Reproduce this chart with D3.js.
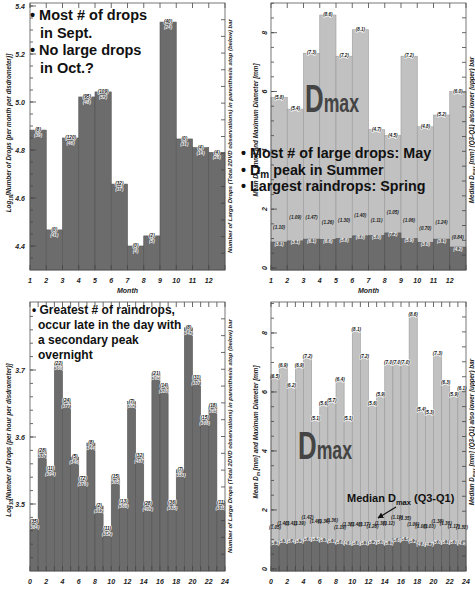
<!DOCTYPE html>
<html>
<head>
<meta charset="utf-8">
<script src="https://cdn.jsdelivr.net/npm/d3@7"></script>
<style>
  body { margin: 0; background: #fff; }
  svg { display: block; font-family: Arial, "Liberation Sans", Helvetica, sans-serif; }
</style>
</head>
<body>
<svg id="chart" width="475" height="589"></svg>
<script>
// ---- data: monthly ----
const months = d3.range(1, 13);
const logDropsMonth = [4.883, 4.467, 4.850, 5.021, 5.042, 4.658, 4.400, 4.442, 5.333, 4.846, 4.810, 4.790];
const largeMonth = [8, 0, 120, 95, 109, 32, 0, 2, 40, 0, 4, 4];
const obsMonth = [39, 41, 46, 48, 52, 37, 4, 5, 24, 31, 14, 26];
const dmaxMonth = [5.8, 5.4, 7.3, 8.6, 7.2, 8.1, 4.7, 4.5, 7.2, 4.8, 5.2, 6.0];
const dmMonth = [0.88, 0.92, 0.98, 0.97, 1.00, 1.09, 1.10, 1.19, 1.00, 0.87, 0.98, 0.71];
const dmLabelMonth = ["3.1", "3.1", "6.1", "6.6", "5.8", "6.0", "5.0", "7.2", "5.9", "3.0", "3.1", "4.2"];
const medDmaxMonth = [1.39, 1.70, 1.70, 1.53, 1.60, 1.77, 1.63, 1.87, 1.60, 1.33, 1.56, 1.05];
const iqrMonth = ["1.10", "1.09", "1.47", "1.26", "1.30", "1.40", "1.11", "1.05", "1.06", "0.70", "1.24", "0.84"];

// ---- data: hourly ----
const hours = d3.range(0, 24);
const logDropsHour = [3.473, 3.579, 3.552, 3.710, 3.654, 3.570, 3.537, 3.591, 3.497, 3.463, 3.540, 3.504,
                      3.653, 3.572, 3.500, 3.695, 3.676, 3.502, 3.551, 3.763, 3.688, 3.628, 3.646, 3.502];
const largeHour = [35, 28, 11, 22, 24, 5, 72, 8, 2, 11, 15, 13, 7, 32, 28, 21, 14, 36, 7, 8, 31, 15, 18, 11];
const obsHour = [384, 337, 394, 366, 377, 346, 376, 344, 312, 352, 305, 380, 382, 487, 402, 365, 328, 335, 353, 342, 337, 308, 365, 335];
const dmaxHour = [6.5, 6.9, 6.2, 6.9, 7.2, 5.1, 5.6, 5.7, 6.4, 5.1, 8.1, 7.2, 5.6, 5.9, 7.0, 7.0, 7.0, 8.6, 5.4, 5.3, 7.3, 6.3, 5.9, 6.1];
const dmHour = [0.92, 1.00, 1.00, 1.00, 1.05, 1.05, 1.03, 1.00, 0.97, 0.93, 0.93, 0.93,
                0.95, 0.95, 0.93, 1.04, 1.06, 1.00, 0.90, 0.88, 0.95, 0.97, 0.95, 0.92];
const dmLabelHour = ["5.1", "5.3", "5.4", "5.2", "5.6", "5.5", "5.3", "5.1", "5.0", "4.9", "5.0", "5.1",
                     "5.2", "5.0", "5.1", "5.6", "5.5", "5.2", "4.8", "4.7", "5.0", "5.1", "5.0", "4.9"];
const medDmaxHour = [1.39, 1.55, 1.55, 1.55, 1.75, 1.60, 1.60, 1.65, 1.40, 1.50, 1.50, 1.50,
                     1.45, 1.55, 1.55, 1.75, 1.70, 1.50, 1.45, 1.45, 1.60, 1.55, 1.45, 1.40];
const iqrHour = ["1.05", "1.40", "1.41", "1.39", "1.42", "1.46", "1.34", "1.36", "1.19", "1.38", "1.40", "1.17",
                 "1.28", "1.38", "1.12", "1.19", "1.35", "1.06", "1.08", "1.03", "1.38", "1.36", "1.17", "1.32"];

const monthTickLabels = d3.range(1, 13);
const hourTickLabels = d3.range(0, 25, 2);

const DARK = "#6c6c6c", DARK_EDGE = "#545454";
const LIGHT = "#c1c1c1", LIGHT_EDGE = "#9a9a9a";

const svg = d3.select("#chart");

function makeScales(box, xDom, yDom) {
  return {
    box,
    x: d3.scaleLinear().domain(xDom).range([box.l, box.r]),
    y: d3.scaleLinear().domain(yDom).range([box.b, box.t])
  };
}

// frame, inward ticks and tick labels
function drawFrame(p, o) {
  const g = svg.append("g");
  const b = p.box;
  const line = (x1, y1, x2, y2) => g.append("line")
    .attr("x1", x1).attr("y1", y1).attr("x2", x2).attr("y2", y2)
    .attr("stroke", "#444").attr("stroke-width", 0.8);

  o.xTicks.forEach(v => { line(p.x(v), b.b, p.x(v), b.b - 5); line(p.x(v), b.t, p.x(v), b.t + 5); });
  o.yMinor.forEach(v => line(b.l, p.y(v), b.l + 3, p.y(v)));
  o.yMajor.forEach(v => line(b.l, p.y(v), b.l + 6, p.y(v)));
  o.rightTicks.forEach(yy => line(b.r, yy, b.r - 4, yy));

  g.append("rect").attr("x", b.l).attr("y", b.t).attr("width", b.r - b.l).attr("height", b.b - b.t)
    .attr("fill", "none").attr("stroke", "#555").attr("stroke-width", 0.8);

  g.selectAll(".xl").data(o.xLabels).enter().append("text")
    .attr("x", d => p.x(d)).attr("y", b.b + 13)
    .attr("text-anchor", "middle").attr("font-size", 7).attr("font-weight", "bold")
    .attr("font-style", "italic").attr("fill", "#222").text(d => d);

  g.selectAll(".yl").data(o.yMajor).enter().append("text")
    .attr("transform", d => o.rotateY
      ? `translate(${b.l - 4},${p.y(d)}) rotate(-90)`
      : `translate(${b.l - 5},${p.y(d) + 2.5})`)
    .attr("text-anchor", o.rotateY ? "middle" : "end")
    .attr("font-size", 7).attr("font-weight", "bold").attr("font-style", "italic").attr("fill", "#222")
    .text(d => o.yFmt(d));

  g.append("text").attr("x", (b.l + b.r) / 2).attr("y", b.b + 23)
    .attr("text-anchor", "middle").attr("font-size", 7).attr("font-weight", "bold")
    .attr("font-style", "italic").attr("fill", "#222").text(o.xTitle);
}

function vLabel(x, y, parts, size) {
  const t = svg.append("text").attr("transform", `translate(${x},${y}) rotate(-90)`)
    .attr("text-anchor", "middle").attr("font-size", size).attr("font-weight", "bold")
    .attr("font-style", "italic").attr("fill", "#222");
  parts.forEach(pt => {
    const s = t.append("tspan").text(pt.t);
    if (pt.sub) s.attr("font-size", size * 0.7).attr("dy", 1.5);
    if (pt.up) s.attr("dy", -1.5);
  });
}

// ---- log count panels ----
function countPanel(p, keys, vals, tops, bots) {
  const w = p.x(1) - p.x(0);
  const g = svg.append("g");
  g.selectAll("rect").data(keys).enter().append("rect")
    .attr("x", d => p.x(d)).attr("width", w)
    .attr("y", (d, i) => p.y(vals[i]))
    .attr("height", (d, i) => p.box.b - p.y(vals[i]))
    .attr("fill", DARK).attr("stroke", DARK_EDGE).attr("stroke-width", 0.6);
  g.selectAll(".tl").data(keys).enter().append("text")
    .attr("x", d => p.x(d) + w / 2).attr("y", (d, i) => p.y(vals[i]) + 1.2)
    .attr("text-anchor", "middle").attr("font-size", 4.6).attr("font-weight", "bold").attr("font-style", "italic")
    .attr("fill", "#111").attr("stroke", "#fff").attr("stroke-width", 1.2).attr("paint-order", "stroke")
    .text((d, i) => `(${tops[i]})`);
  g.selectAll(".bl").data(keys).enter().append("text")
    .attr("x", d => p.x(d) + w / 2).attr("y", (d, i) => p.y(vals[i]) + 7)
    .attr("text-anchor", "middle").attr("font-size", 4.6).attr("font-weight", "bold").attr("font-style", "italic")
    .attr("fill", "#f2f2f2").text((d, i) => `(${bots[i]})`);
}

// ---- diameter panels ----
function diamPanel(p, keys, dmax, dm, dmLab, med, iqr) {
  const w = p.x(1) - p.x(0);
  const yb = p.box.b;
  const g = svg.append("g");
  g.selectAll(".lb").data(keys).enter().append("rect")
    .attr("x", d => p.x(d)).attr("width", w)
    .attr("y", (d, i) => p.y(dmax[i])).attr("height", (d, i) => yb - p.y(dmax[i]))
    .attr("fill", LIGHT).attr("stroke", LIGHT_EDGE).attr("stroke-width", 0.6);
  g.selectAll(".db").data(keys).enter().append("rect")
    .attr("x", d => p.x(d)).attr("width", w)
    .attr("y", (d, i) => p.y(dm[i])).attr("height", (d, i) => yb - p.y(dm[i]))
    .attr("fill", DARK).attr("stroke", DARK_EDGE).attr("stroke-width", 0.6);
  const small = sel => sel.attr("text-anchor", "middle").attr("font-size", 4.6)
    .attr("font-weight", "bold").attr("font-style", "italic");
  g.selectAll(".tl").data(keys).enter().append("text")
    .attr("x", d => p.x(d) + w / 2).attr("y", (d, i) => p.y(dmax[i]) + 1.2)
    .call(small).attr("fill", "#111").attr("stroke", "#fff").attr("stroke-width", 1.2)
    .attr("paint-order", "stroke").text((d, i) => `(${dmax[i].toFixed(1)})`);
  g.selectAll(".ml").data(keys).enter().append("text")
    .attr("x", d => p.x(d) + w / 2).attr("y", (d, i) => p.y(med[i]) + 1.5)
    .call(small).attr("fill", "#222").text((d, i) => `(${iqr[i]})`);
  g.selectAll(".dl").data(keys).enter().append("text")
    .attr("x", d => p.x(d) + w / 2).attr("y", (d, i) => p.y(dm[i]) + 3.5)
    .call(small).attr("fill", "#f4f4f4").text((d, i) => `(${dmLab[i]})`);
}

function rightTicks(t, b, n) { return d3.range(1, n).map(k => t + (b - t) * k / n); }

// panel geometry
const TL = makeScales({ l: 30, r: 225, t: 3, b: 270 }, [1, 13], [4.3, 5.4125]);
const TR = makeScales({ l: 271, r: 466, t: 3, b: 270 }, [1, 13], [-0.07, 9.01]);
const BL = makeScales({ l: 30, r: 225, t: 302, b: 571 }, [0, 24], [3.4, 3.8015]);
const BR = makeScales({ l: 271, r: 466, t: 302, b: 571 }, [0, 24], [-0.07, 9.05]);

countPanel(TL, months, logDropsMonth, largeMonth, obsMonth);
countPanel(BL, hours, logDropsHour, largeHour, obsHour);
diamPanel(TR, months, dmaxMonth, dmMonth, dmLabelMonth, medDmaxMonth, iqrMonth);
diamPanel(BR, hours, dmaxHour, dmHour, dmLabelHour, medDmaxHour, iqrHour);

drawFrame(TL, { xTicks: d3.range(1, 14), xLabels: monthTickLabels, xTitle: "Month",
  yMajor: [4.4, 4.6, 4.8, 5.0, 5.2, 5.4], yMinor: d3.range(4.35, 5.41, 0.05),
  yFmt: d3.format(".1f"), rightTicks: rightTicks(3, 270, 16) });
drawFrame(TR, { xTicks: d3.range(1, 14), xLabels: monthTickLabels, xTitle: "Month",
  yMajor: [0, 2, 4, 6, 8], yMinor: d3.range(0, 9.01, 0.5), rotateY: true,
  yFmt: d3.format("d"), rightTicks: rightTicks(3, 270, 18) });
drawFrame(BL, { xTicks: d3.range(0, 25), xLabels: hourTickLabels, xTitle: "Hour",
  yMajor: [3.5, 3.6, 3.7], yMinor: d3.range(3.42, 3.8, 0.02),
  yFmt: d3.format(".1f"), rightTicks: rightTicks(302, 571, 16) });
drawFrame(BR, { xTicks: d3.range(0, 25), xLabels: hourTickLabels, xTitle: "Hour",
  yMajor: [0, 2, 4, 6, 8], yMinor: d3.range(0, 9.01, 0.5), rotateY: true,
  yFmt: d3.format("d"), rightTicks: rightTicks(302, 571, 18) });

// axis titles
vLabel(11, 133, [{ t: "Log" }, { t: "10", sub: true }, { t: "[Number of Drops (per month per disdrometer)]", up: true }], 6.3);
vLabel(11, 440, [{ t: "Log" }, { t: "10", sub: true }, { t: "[Number of Drops (per hour per disdrometer)]", up: true }], 6.3);
vLabel(232, 136, [{ t: "Number of Large Drops (Total 2DVD observations) in parenthesis atop (below) bar" }], 6);
vLabel(232, 436, [{ t: "Number of Large Drops (Total 2DVD observations) in parenthesis atop (below) bar" }], 6);
vLabel(258, 130, [{ t: "Mean D" }, { t: "m", sub: true }, { t: " [mm] and Maximum Diameter [mm]", up: true }], 6.3);
vLabel(258, 432, [{ t: "Mean D" }, { t: "m", sub: true }, { t: " [mm] and Maximum Diameter [mm]", up: true }], 6.3);
vLabel(474, 130, [{ t: "Median D" }, { t: "max", sub: true }, { t: " [mm] (Q3-Q1) also lower (upper) bar", up: true }], 6.3);
vLabel(474, 432, [{ t: "Median D" }, { t: "max", sub: true }, { t: " [mm] (Q3-Q1) also lower (upper) bar", up: true }], 6.3);

// annotations
function bullets(x, y0, step, size, lines) {
  const t = svg.append("text").attr("font-size", size).attr("font-weight", "bold").attr("fill", "#111");
  lines.forEach((ln, i) => {
    const s = t.append("tspan").attr("x", x + (ln.indent || 0)).attr("y", y0 + i * step);
    ln.parts.forEach(pt => {
      const q = s.append("tspan").text(pt.t);
      if (pt.sub) q.attr("font-size", size * 0.7).attr("dy", 3);
      if (pt.up) q.attr("dy", -3);
    });
  });
}
bullets(30, 20, 17.5, 14.5, [
  { parts: [{ t: "• Most # of drops" }] },
  { indent: 10, parts: [{ t: "in Sept." }] },
  { parts: [{ t: "• No large drops" }] },
  { indent: 10, parts: [{ t: "in Oct.?" }] }
]);
bullets(241, 158, 16.5, 14.3, [
  { parts: [{ t: "• Most # of large drops: May" }] },
  { parts: [{ t: "• D" }, { t: "m", sub: true }, { t: " peak in Summer", up: true }] },
  { parts: [{ t: "• Largest raindrops: Spring" }] }
]);
bullets(32, 314, 15, 12, [
  { parts: [{ t: "• Greatest # of raindrops," }] },
  { indent: 6, parts: [{ t: "occur late in the day with" }] },
  { indent: 6, parts: [{ t: "a secondary peak" }] },
  { indent: 6, parts: [{ t: "overnight" }] }
]);

function bigD(x, y) {
  const t = svg.append("text").attr("transform", `translate(${x},${y}) scale(0.68,1)`)
    .attr("font-weight", "bold").attr("fill", "#444");
  t.append("tspan").attr("font-size", 38).text("D");
  t.append("tspan").attr("font-size", 26).text("max");
}
bigD(305, 112);
bigD(298, 459);

// median label with arrow
const ann = svg.append("text").attr("x", 347).attr("y", 502).attr("font-size", 11).attr("font-weight", "bold").attr("fill", "#111");
ann.append("tspan").text("Median D");
ann.append("tspan").attr("font-size", 7.5).attr("dy", 3).text("max");
ann.append("tspan").attr("dy", -3).text(" (Q3-Q1)");
svg.append("defs").append("marker").attr("id", "ah").attr("viewBox", "0 0 10 10")
  .attr("refX", 9).attr("refY", 5).attr("markerWidth", 5).attr("markerHeight", 5).attr("orient", "auto")
  .append("path").attr("d", "M0,0L10,5L0,10z").attr("fill", "#111");
svg.append("line").attr("x1", 396).attr("y1", 507).attr("x2", 378).attr("y2", 518)
  .attr("stroke", "#111").attr("stroke-width", 1.2).attr("marker-end", "url(#ah)");
</script>
</body>
</html>
